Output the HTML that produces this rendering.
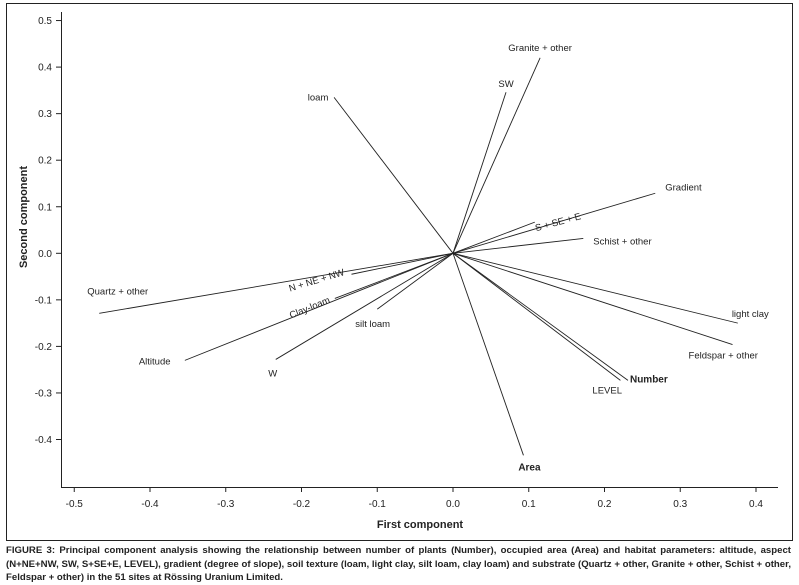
<!DOCTYPE html>
<html><head><meta charset="utf-8"><style>
body{margin:0;background:#fff;width:799px;height:584px;overflow:hidden;font-family:"Liberation Sans",sans-serif}
#cap{position:absolute;left:6px;top:544px;width:785px;font-size:9.6px;line-height:13.6px;font-weight:bold;color:#222;letter-spacing:0px;white-space:nowrap}
#cap span{display:block;text-align:justify;text-align-last:justify}
#cap span.last{text-align-last:left}
</style></head><body>
<svg width="799" height="544" style="position:absolute;left:0;top:0" font-family="Liberation Sans, sans-serif">
<rect x="6.5" y="3.5" width="786" height="537" fill="none" stroke="#222" stroke-width="1"/>
<g id="axes"></g><g id="vecs"></g>
</svg>
<div id="cap"><span>FIGURE 3: Principal component analysis showing the relationship between number of plants (Number), occupied area (Area) and habitat parameters: altitude, aspect</span><span>(N+NE+NW, SW, S+SE+E, LEVEL), gradient (degree of slope), soil texture (loam, light clay, silt loam, clay loam) and substrate (Quartz + other, Granite + other, Schist + other,</span><span class="last">Feldspar + other) in the 51 sites at Rössing Uranium Limited.</span></div>
<script>
const names=["loam","SW","Granite + other","Gradient","S + SE + E","Schist + other","light clay","Feldspar + other","Number","LEVEL","Area","Quartz + other","N + NE + NW","Clay-loam","Altitude","W","silt loam"];
const pc1=[-0.157,0.070,0.115,0.267,0.108,0.172,0.376,0.369,0.231,0.221,0.093,-0.467,-0.134,-0.156,-0.354,-0.234,-0.100];
const pc2=[0.335,0.346,0.420,0.129,0.067,0.032,-0.150,-0.196,-0.273,-0.273,-0.434,-0.129,-0.045,-0.097,-0.230,-0.228,-0.120];
const xTicks=[-0.5,-0.4,-0.3,-0.2,-0.1,0.0,0.1,0.2,0.3,0.4];
const yTicks=[0.5,0.4,0.3,0.2,0.1,0.0,-0.1,-0.2,-0.3,-0.4];
const X=v=>453+v*757.5, Y=v=>253.3-v*465.5;
const NS="http://www.w3.org/2000/svg";
function mk(t,a,p){const e=document.createElementNS(NS,t);for(const k in a)e.setAttribute(k,a[k]);p.appendChild(e);return e;}
const ax=document.getElementById('axes');
const ya=mk('line',{x1:61.5,y1:12,x2:61.5,y2:487,stroke:'#222'},ax);


const xa=mk('line',{x1:61,y1:487.5,x2:778,y2:487.5,stroke:'#222'},ax);


xTicks.forEach(v=>{mk('line',{x1:X(v),y1:487,x2:X(v),y2:492,stroke:'#222'},ax);
const t=mk('text',{x:X(v),y:507,'font-size':10,'text-anchor':'middle',fill:'#222'},ax);t.textContent=v.toFixed(1);

});
yTicks.forEach(v=>{mk('line',{x1:56,y1:Y(v),x2:61,y2:Y(v),stroke:'#222'},ax);
const t=mk('text',{x:52,y:Y(v)+3.5,'font-size':10,'text-anchor':'end',fill:'#222'},ax);t.textContent=v.toFixed(1);

});
const xt=mk('text',{x:420,y:528,'font-size':11,'font-weight':'bold','text-anchor':'middle',fill:'#222'},ax);xt.textContent='First component';


const yt=mk('text',{x:0,y:0,'font-size':11,'font-weight':'bold','text-anchor':'middle',fill:'#222',transform:'translate(27,217) rotate(-90)'},ax);yt.textContent='Second component';


const lab=[[-16,3,'middle',0,0],[0,-5,'middle',0,0],[0,-7,'middle',0,0],[10,-3,'start',0,0],[24,3,'middle',-15,0],[10,6,'start',0,0],[-6,-6,'start',0,0],[-44,14,'start',0,0],[2,2,'start',0,1],[-28,13,'start',0,0],[6,15,'middle',0,1],[-12,-19,'start',0,0],[-34,9,'middle',-17,0],[-24,12,'middle',-22,0],[-46,4,'start',0,0],[-3,17,'middle',0,0],[-22,18,'start',0,0]];
const vg=document.getElementById('vecs');
names.forEach((n,i)=>{
  const l=mk('line',{x1:X(0),y1:Y(0),x2:X(pc1[i]),y2:Y(pc2[i]),stroke:'#222','stroke-width':0.9},vg);
  
  
  const o=lab[i],x=X(pc1[i])+o[0],y=Y(pc2[i])+o[1];
  const t=mk('text',{x:x,y:y,'font-size':o[4]?10:9.5,'font-weight':o[4]?'bold':'normal','text-anchor':o[2],fill:'#222',transform:`rotate(${o[3]} ${x} ${y})`},vg);
  t.textContent=n;
  
  
});
</script>
</body></html>
